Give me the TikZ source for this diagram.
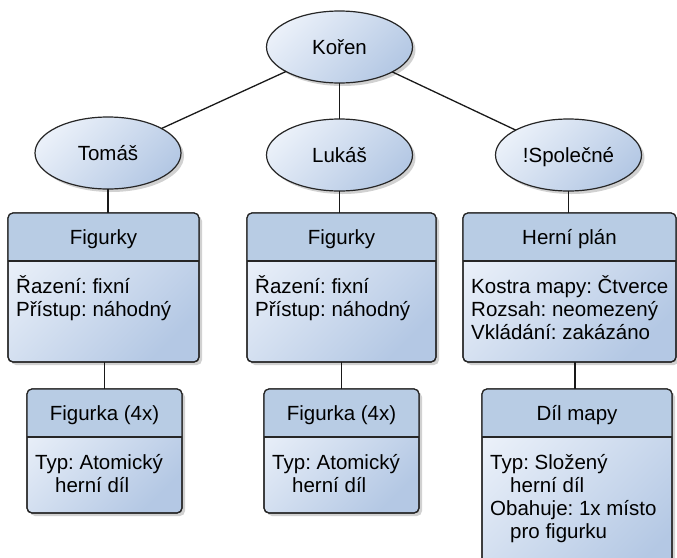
\documentclass[tikz,border=0pt]{standalone}
\usepackage{fontspec}
\setmainfont{Liberation Sans}
\usetikzlibrary{shapes.geometric,shadows,calc}
\definecolor{bl}{RGB}{234,240,249}
\definecolor{bd}{RGB}{180,200,228}
\definecolor{hdr}{RGB}{184,204,228}
\definecolor{edgec}{RGB}{38,38,38}
\newcommand\fs{\fontsize{20.5}{23}\selectfont\frenchspacing}
\tikzset{
  shadeblue/.style={top color=bl, bottom color=bd, shading angle=45},
  softshadow/.style={drop shadow={shadow xshift=3pt, shadow yshift=-3pt, opacity=0.18, fill=black}},
  ell/.style={ellipse, draw=edgec, line width=1.2pt, shadeblue, softshadow,
    minimum width=146pt, minimum height=72pt, inner sep=0pt, outer sep=0pt,
    font=\fs, text height=14.7pt, text depth=0pt},
  boxframe/.style={rectangle, draw=edgec, line width=1.2pt, rounded corners=5pt,
    shadeblue, softshadow, anchor=north west, inner sep=0pt, outer sep=0pt},
  hdrtext/.style={font=\fs, text height=14.7pt, text depth=0pt, inner sep=0pt},
  bodytext/.style={font=\fs, align=left, anchor=north west, inner sep=0pt},
  link/.style={line width=1.3pt, draw=black!90},
}
\newcommand\umlbox[7]{%
  \node[boxframe, minimum width=#4, minimum height=#5] (#1) at (#2,#3) {};
  \begin{scope}
    \clip[rounded corners=5pt] (#1.north west) rectangle (#1.south east);
    \fill[hdr] (#1.north west) rectangle ($(#1.north east)+(0,48)$);
  \end{scope}
  \draw[draw=edgec, line width=1.2pt] ($(#1.north west)+(0,48)$) -- ($(#1.north east)+(0,48)$);
  \draw[draw=edgec, line width=1.2pt, rounded corners=5pt] (#1.north west) rectangle (#1.south east);
  \node[hdrtext] (#1-title) at ($(#1.north)+(0,24)$) {#6};
  \node[bodytext] (#1-body) at ($(#1.north west)+(8,60)$) {\rule{0pt}{20pt}#7};
}
\begin{document}
\begin{tikzpicture}[x=1pt,y=-1pt]
\useasboundingbox (0,0) rectangle (677,557);
\fill[white] (0,0) rectangle (677,557);
\clip (0,0) rectangle (677,557);

% ellipses
\node[ell] (koren) at (339.5,47) {Kořen};
\node[ell] (tomas) at (108,153) {Tomáš};
\node[ell] (lukas) at (339.5,155) {Lukáš};
\node[ell] (spol) at (568.5,155) {!Společné};

% boxes
\umlbox{b1}{8}{213}{191}{149}{Figurky}{Řazení: fixní\\Přístup: náhodný}
\umlbox{b2}{247}{213}{189}{149}{Figurky}{Řazení: fixní\\Přístup: náhodný}
\umlbox{b3}{463}{213}{213}{149}{Herní plán}{Kostra mapy: Čtverce\\Rozsah: neomezený\\Vkládání: zakázáno}
\umlbox{f1}{27}{389}{155}{124}{Figurka (4x)}{Typ: Atomický\\\hspace*{20pt}herní díl}
\umlbox{f2}{264}{389}{155}{124}{Figurka (4x)}{Typ: Atomický\\\hspace*{20pt}herní díl}
\umlbox{d}{482}{389}{190}{200}{Díl mapy}{Typ: Složený\\\hspace*{20pt}herní díl\\Obahuje: 1x místo\\\hspace*{20pt}pro figurku}

% connectors
\draw[link] (koren) -- (tomas);
\draw[link] (koren) -- (lukas);
\draw[link] (koren) -- (spol);
\draw[link] (tomas.south) -- (tomas.south |- b1.north);
\draw[link] (lukas.south) -- (lukas.south |- b2.north);
\draw[link] (spol.south) -- (spol.south |- b3.north);
\draw[link] (f1.north |- b1.south) -- (f1.north);
\draw[link] (f2.north |- b2.south) -- (f2.north);
\draw[link] ([xshift=-2pt]d.north |- b3.south) -- ([xshift=-2pt]d.north);
\end{tikzpicture}
\end{document}
